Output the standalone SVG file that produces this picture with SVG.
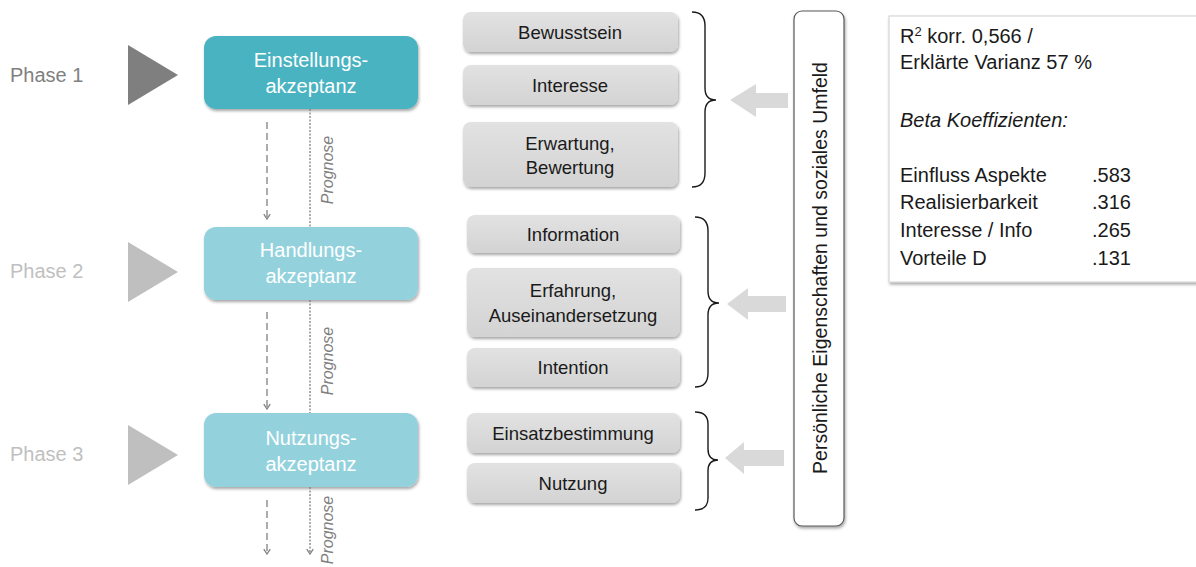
<svg xmlns="http://www.w3.org/2000/svg" width="1196" height="567" viewBox="0 0 1196 567">
  <defs>
    <filter id="shadow" x="-10%" y="-10%" width="130%" height="140%">
      <feDropShadow dx="1" dy="2" stdDeviation="1.5" flood-color="#000" flood-opacity="0.35"/>
    </filter>
    <linearGradient id="greyFill" x1="0" y1="0" x2="0" y2="1">
      <stop offset="0" stop-color="#e2e2e2"/>
      <stop offset="1" stop-color="#d3d3d3"/>
    </linearGradient>
    <marker id="tipDown" viewBox="0 0 10 10" refX="5" refY="9" markerWidth="8" markerHeight="8" markerUnits="userSpaceOnUse">
      <path d="M1,3 L5,9 L9,3" fill="none" stroke="#7f7f7f" stroke-width="1.6"/>
    </marker>
  </defs>
  <style>
    .phase { font-family: "Liberation Sans", Arial, sans-serif; font-size: 20px; }
    .stage { font-family: "Liberation Sans", Arial, sans-serif; font-size: 20px; fill: #ffffff; text-anchor: middle; }
    .item { font-family: "Liberation Sans", Arial, sans-serif; font-size: 18.5px; fill: #1a1a1a; text-anchor: middle; }
    .side { font-family: "Liberation Sans", Arial, sans-serif; font-size: 19.5px; fill: #1a1a1a; text-anchor: middle; }
    .itemBox { fill: url(#greyFill); filter: url(#shadow); }
    .prog { font-family: "Liberation Sans", Arial, sans-serif; font-size: 16px; font-style: italic; fill: #808080; text-anchor: middle; }
    .dash { stroke: #808080; stroke-width: 1.3; stroke-dasharray: 7 4; fill: none; }
    .dot { stroke: #808080; stroke-width: 1.3; stroke-dasharray: 2 1.5; fill: none; }
    .brace { fill: none; stroke: #1a1a1a; stroke-width: 1.4; }
    .push { fill: #d9d9d9; }
    .stat { font-family: "Liberation Sans", Arial, sans-serif; font-size: 20px; fill: #1a1a1a; }
  </style>

  <!-- phase markers -->
  <g id="phase1">
    <text class="phase" x="10" y="82" fill="#7f7f7f">Phase 1</text>
    <polygon points="128,45 178,75 128,105" fill="#7f7f7f"/>
  </g>
  <g id="phase2">
    <text class="phase" x="10" y="278" fill="#bfbfbf">Phase 2</text>
    <polygon points="128,242 178,272 128,302" fill="#bfbfbf"/>
  </g>
  <g id="phase3">
    <text class="phase" x="10" y="461" fill="#bfbfbf">Phase 3</text>
    <polygon points="128,425 178,455 128,485" fill="#bfbfbf"/>
  </g>

  <!-- acceptance stages -->
  <g id="einstellung">
    <rect x="204" y="36" width="214" height="73" rx="12" fill="#4ab3c2" filter="url(#shadow)"/>
    <text class="stage" x="311" y="67">Einstellungs-</text>
    <text class="stage" x="311" y="93">akzeptanz</text>
  </g>
  <g id="handlung">
    <rect x="204" y="227" width="214" height="73" rx="12" fill="#93d2dd" filter="url(#shadow)"/>
    <text class="stage" x="311" y="257">Handlungs-</text>
    <text class="stage" x="311" y="283">akzeptanz</text>
  </g>
  <g id="nutzung">
    <rect x="204" y="413" width="214" height="74" rx="12" fill="#93d2dd" filter="url(#shadow)"/>
    <text class="stage" x="311" y="445">Nutzungs-</text>
    <text class="stage" x="311" y="471">akzeptanz</text>
  </g>

  <!-- connectors between stages -->
  <g id="connectors">
    <line class="dash" x1="267" y1="122" x2="267" y2="219" marker-end="url(#tipDown)"/>
    <line class="dot" x1="310" y1="109" x2="310" y2="227"/>
    <line class="dash" x1="267" y1="312" x2="267" y2="409" marker-end="url(#tipDown)"/>
    <line class="dot" x1="310" y1="300" x2="310" y2="413"/>
    <line class="dash" x1="267" y1="500" x2="267" y2="554" marker-end="url(#tipDown)"/>
    <line class="dot" x1="310" y1="487" x2="310" y2="554" marker-end="url(#tipDown)"/>
    <text class="prog" transform="translate(333,170) rotate(-90)">Prognose</text>
    <text class="prog" transform="translate(333,361) rotate(-90)">Prognose</text>
    <text class="prog" transform="translate(333,530) rotate(-90)">Prognose</text>

    <!-- braces -->
    <path class="brace" d="M692,12 Q705,12 705,26 L705,88 Q705,100 716,100 Q705,100 705,112 L705,173 Q705,187 692,187"/>
    <path class="brace" d="M695,217 Q708,217 708,231 L708,291 Q708,303 719,303 Q708,303 708,315 L708,373 Q708,387 695,387"/>
    <path class="brace" d="M695,412 Q708,412 708,424 L708,449 Q708,460 718,460 Q708,460 708,471 L708,498 Q708,510 695,510"/>

    <!-- influence arrows -->
    <polygon class="push" points="730,100 756,84 756,93 788,93 788,108 756,108 756,117"/>
    <polygon class="push" points="727,304 748,288 748,296 786,296 786,312 748,312 748,320"/>
    <polygon class="push" points="725,458 744,442 744,450 784,450 784,466 744,466 744,474"/>
  </g>

  <!-- facets of each stage -->
  <g id="bewusstsein">
    <rect class="itemBox" x="463" y="12" width="215" height="40" rx="8"/>
    <text class="item" x="570" y="39">Bewusstsein</text>
  </g>
  <g id="interesse">
    <rect class="itemBox" x="463" y="65" width="215" height="40" rx="8"/>
    <text class="item" x="570" y="92">Interesse</text>
  </g>
  <g id="erwartung">
    <rect class="itemBox" x="463" y="122" width="215" height="65" rx="8"/>
    <text class="item" x="570" y="150">Erwartung,</text>
    <text class="item" x="570" y="174">Bewertung</text>
  </g>
  <g id="information">
    <rect class="itemBox" x="467" y="215" width="213" height="38" rx="8"/>
    <text class="item" x="573" y="241">Information</text>
  </g>
  <g id="erfahrung">
    <rect class="itemBox" x="467" y="268" width="213" height="69" rx="8"/>
    <text class="item" x="573" y="297">Erfahrung,</text>
    <text class="item" x="573" y="322">Auseinandersetzung</text>
  </g>
  <g id="intention">
    <rect class="itemBox" x="467" y="348" width="213" height="39" rx="8"/>
    <text class="item" x="573" y="374">Intention</text>
  </g>
  <g id="einsatzbestimmung">
    <rect class="itemBox" x="467" y="413" width="213" height="40" rx="8"/>
    <text class="item" x="573" y="440">Einsatzbestimmung</text>
  </g>
  <g id="nutzungItem">
    <rect class="itemBox" x="467" y="463" width="213" height="40" rx="8"/>
    <text class="item" x="573" y="490">Nutzung</text>
  </g>

  <!-- personal / social context -->
  <g id="umfeld">
    <rect x="794" y="11" width="50" height="515" rx="8" fill="#ffffff" stroke="#595959" stroke-width="1.2" filter="url(#shadow)"/>
    <text class="side" transform="translate(827,268) rotate(-90)">Persönliche Eigenschaften und soziales Umfeld</text>
  </g>

  <!-- regression summary -->
  <g id="statistik">
    <rect x="889" y="16" width="320" height="266" fill="#ffffff" stroke="#d0d0d0" stroke-width="1" filter="url(#shadow)"/>
    <text class="stat" x="900" y="43">R<tspan font-size="13" dy="-7">2</tspan><tspan dy="7"> korr. 0,566 /</tspan></text>
    <text class="stat" x="900" y="69">Erklärte Varianz 57 %</text>
    <text class="stat" x="900" y="127" font-style="italic">Beta Koeffizienten:</text>
    <text class="stat" x="900" y="182">Einfluss Aspekte</text>
    <text class="stat" x="1092" y="182">.583</text>
    <text class="stat" x="900" y="209">Realisierbarkeit</text>
    <text class="stat" x="1092" y="209">.316</text>
    <text class="stat" x="900" y="237">Interesse / Info</text>
    <text class="stat" x="1092" y="237">.265</text>
    <text class="stat" x="900" y="265">Vorteile D</text>
    <text class="stat" x="1092" y="265">.131</text>
  </g>
</svg>
